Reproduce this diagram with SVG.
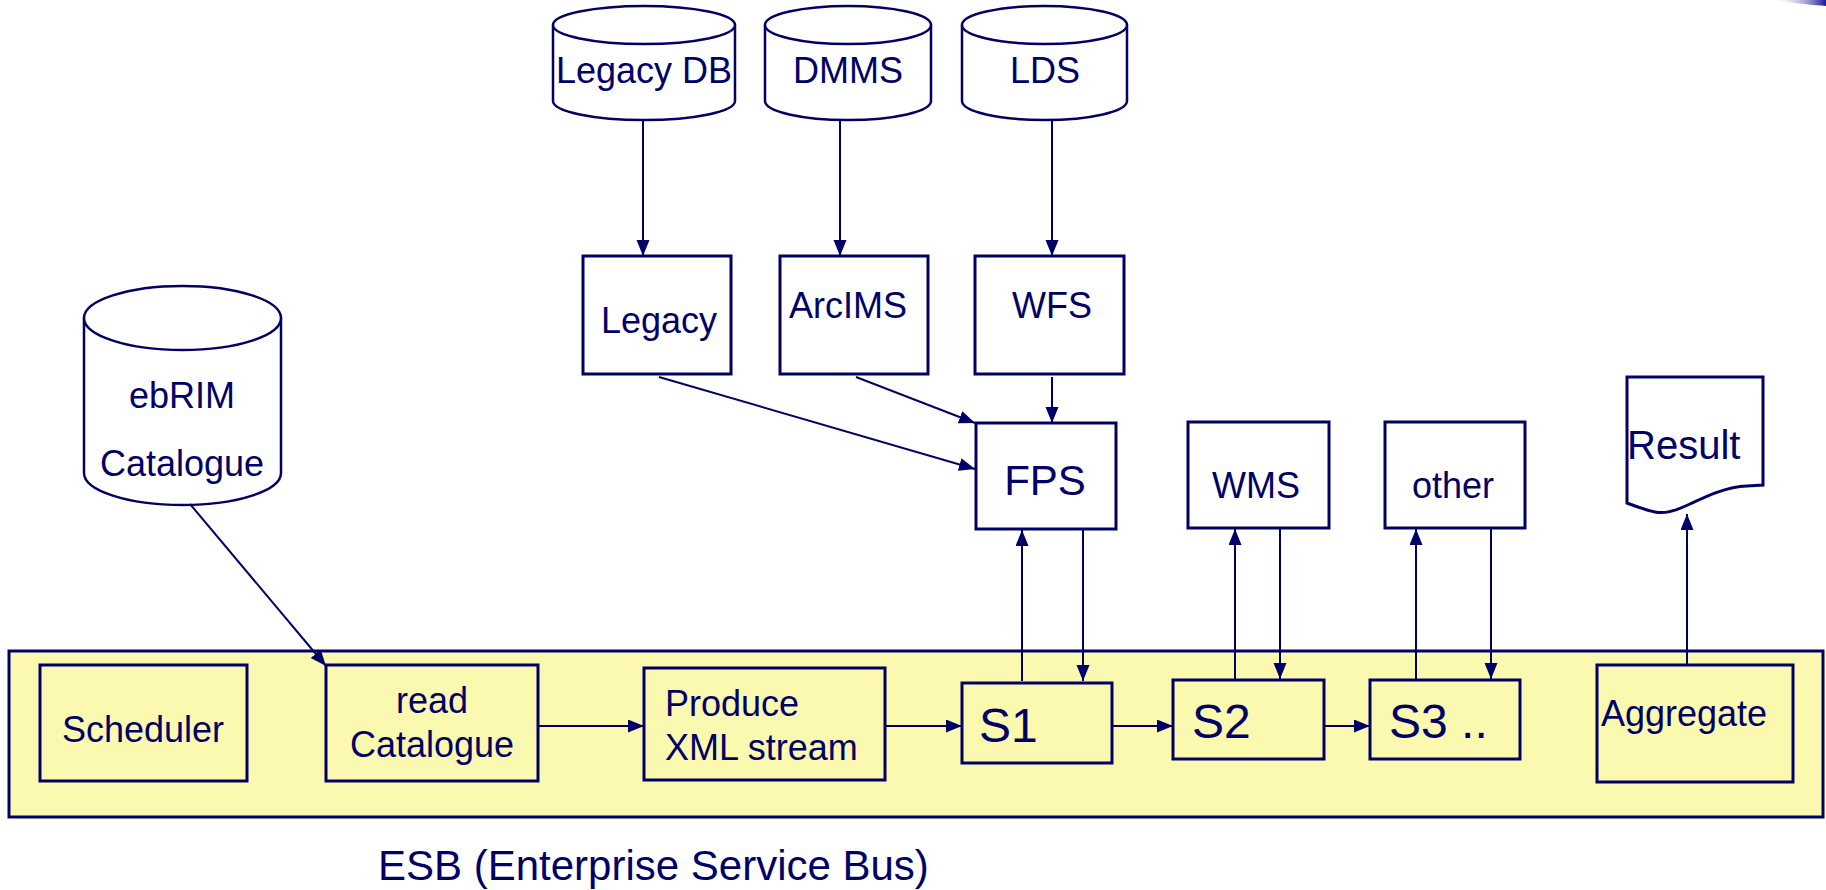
<svg xmlns="http://www.w3.org/2000/svg" width="1826" height="890" viewBox="0 0 1826 890">
  <defs>
    <style>
      .ln { stroke: #000066; stroke-width: 2; fill: none; }
      .bx { fill: #ffffff; stroke: #000066; stroke-width: 3; }
      .yb { fill: #FBF8B0; stroke: #000066; stroke-width: 3; }
      .cyl { fill: #ffffff; stroke: #000066; stroke-width: 2.5; }
      .t { font-family: "Liberation Sans", Arial, sans-serif; fill: #000066; font-size: 36px; }
      .c { text-anchor: middle; }
      .big { font-size: 48px; }
      .mid { font-size: 42px; }
      .res { font-size: 40px; }
    </style>
    <marker id="arr" markerUnits="userSpaceOnUse" markerWidth="17" markerHeight="14" refX="16" refY="6.5" orient="auto">
      <path d="M0,0 L16,6.5 L0,13 Z" fill="#000066"/>
    </marker>
    <linearGradient id="edge" x1="0" y1="0" x2="1" y2="0">
      <stop offset="0" stop-color="#ffffff" stop-opacity="0"/>
      <stop offset="1" stop-color="#1a1a9a"/>
    </linearGradient>
  </defs>

  <rect width="1826" height="890" fill="#ffffff"/>
  <!-- corner accent -->
  <path d="M1770,0 H1826 V6 C1812,5 1792,3 1770,0 Z" fill="url(#edge)"/>

  <!-- service bus container -->
  <g id="esb">
    <rect class="yb" x="9" y="651" width="1814" height="166"/>
    <text class="t mid" x="378" y="880">ESB (Enterprise Service Bus)</text>
  </g>

  <!-- data stores -->
  <g id="legacy-db">
    <path class="cyl" d="M553,25 V101 A91,19 0 0 0 735,101 V25"/>
    <ellipse class="cyl" cx="644" cy="25" rx="91" ry="19"/>
    <text class="t c" x="644" y="83">Legacy DB</text>
  </g>
  <g id="dmms">
    <path class="cyl" d="M765,25 V101 A83,19 0 0 0 931,101 V25"/>
    <ellipse class="cyl" cx="848" cy="25" rx="83" ry="19"/>
    <text class="t c" x="848" y="83">DMMS</text>
  </g>
  <g id="lds">
    <path class="cyl" d="M962,25 V101 A82.5,19 0 0 0 1127,101 V25"/>
    <ellipse class="cyl" cx="1044.5" cy="25" rx="82.5" ry="19"/>
    <text class="t c" x="1045" y="83">LDS</text>
  </g>
  <g id="ebrim-catalogue">
    <path class="cyl" d="M84,318 V473 A98.5,32 0 0 0 281,473 V318"/>
    <ellipse class="cyl" cx="182.5" cy="318" rx="98.5" ry="32"/>
    <text class="t c" x="182" y="408">ebRIM</text>
    <text class="t c" x="182" y="476">Catalogue</text>
  </g>

  <!-- adapters -->
  <g id="legacy">
    <rect class="bx" x="583" y="256" width="148" height="118"/>
    <text class="t c" x="659" y="333">Legacy</text>
  </g>
  <g id="arcims">
    <rect class="bx" x="780" y="256" width="148" height="118"/>
    <text class="t c" x="848" y="318">ArcIMS</text>
  </g>
  <g id="wfs">
    <rect class="bx" x="975" y="256" width="149" height="118"/>
    <text class="t c" x="1052" y="318">WFS</text>
  </g>

  <!-- external services -->
  <g id="fps">
    <rect class="bx" x="976" y="423" width="140" height="106"/>
    <text class="t c mid" x="1045" y="495">FPS</text>
  </g>
  <g id="wms">
    <rect class="bx" x="1188" y="422" width="141" height="106"/>
    <text class="t c" x="1256" y="498">WMS</text>
  </g>
  <g id="other">
    <rect class="bx" x="1385" y="422" width="140" height="106"/>
    <text class="t c" x="1453" y="498">other</text>
  </g>
  <g id="result">
    <path class="bx" d="M1627,377 H1763 V485 L1747,486 C1725,487 1705,497 1690,504 C1675,511 1665,514 1655,512 C1645,510 1635,506 1627,503 Z"/>
    <text class="t res" x="1627" y="459">Result</text>
  </g>

  <!-- bus steps -->
  <g id="scheduler">
    <rect class="yb" x="40" y="665" width="207" height="116"/>
    <text class="t c" x="143" y="742">Scheduler</text>
  </g>
  <g id="read-catalogue">
    <rect class="yb" x="326" y="665" width="212" height="116"/>
    <text class="t c" x="432" y="713">read</text>
    <text class="t c" x="432" y="757">Catalogue</text>
  </g>
  <g id="produce-xml">
    <rect class="yb" x="644" y="668" width="241" height="112"/>
    <text class="t" x="665" y="716">Produce</text>
    <text class="t" x="665" y="760">XML stream</text>
  </g>
  <g id="s1">
    <rect class="yb" x="962" y="683" width="150" height="80"/>
    <text class="t big" x="979" y="742">S1</text>
  </g>
  <g id="s2">
    <rect class="yb" x="1173" y="680" width="151" height="79"/>
    <text class="t big" x="1192" y="738">S2</text>
  </g>
  <g id="s3">
    <rect class="yb" x="1370" y="680" width="150" height="79"/>
    <text class="t big" x="1389" y="738">S3 ..</text>
  </g>
  <g id="aggregate">
    <rect class="yb" x="1597" y="665" width="196" height="117"/>
    <text class="t" x="1601" y="726">Aggregate</text>
  </g>

  <!-- connectors -->
  <g id="connectors">
    <path class="ln" d="M643,120 V256" marker-end="url(#arr)"/>
    <path class="ln" d="M840,120 V256" marker-end="url(#arr)"/>
    <path class="ln" d="M1052,120 V256" marker-end="url(#arr)"/>
    <path class="ln" d="M659,377 L975,469" marker-end="url(#arr)"/>
    <path class="ln" d="M856,377 L975,423" marker-end="url(#arr)"/>
    <path class="ln" d="M1052,377 V423" marker-end="url(#arr)"/>
    <path class="ln" d="M190,504 L326,666" marker-end="url(#arr)"/>
    <path class="ln" d="M1022,681 V530" marker-end="url(#arr)"/>
    <path class="ln" d="M1083,529 V681" marker-end="url(#arr)"/>
    <path class="ln" d="M1235,680 V529" marker-end="url(#arr)"/>
    <path class="ln" d="M1280,528 V679" marker-end="url(#arr)"/>
    <path class="ln" d="M1416,680 V529" marker-end="url(#arr)"/>
    <path class="ln" d="M1491,528 V679" marker-end="url(#arr)"/>
    <path class="ln" d="M1687,665 V514" marker-end="url(#arr)"/>
    <path class="ln" d="M538,726 H644" marker-end="url(#arr)"/>
    <path class="ln" d="M885,726 H962" marker-end="url(#arr)"/>
    <path class="ln" d="M1112,726 H1173" marker-end="url(#arr)"/>
    <path class="ln" d="M1324,726 H1370" marker-end="url(#arr)"/>
  </g>
</svg>
